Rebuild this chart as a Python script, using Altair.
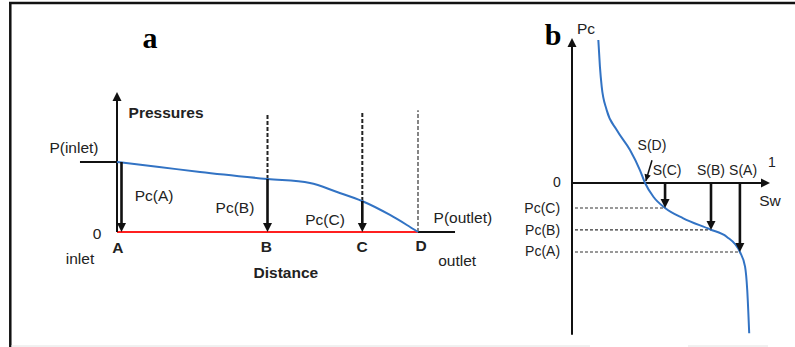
import altair as alt
import pandas as pd

W, H = 795, 347

# ---------------- panel a : pressure along the distance ----------------
a_curve_dist = [0.0, 0.14, 0.276, 0.5, 0.641, 0.731, 0.814, 0.907, 0.963, 1.0]
a_curve_pres = [1.0, 0.929, 0.857, 0.757, 0.70, 0.571, 0.443, 0.243, 0.10, 0.0]

a_point_names = ["A", "B", "C", "D"]
a_point_dist = [0.0, 0.5, 0.815, 1.0]
a_point_pc = [1.0, 0.757, 0.443, 0.0]

a_axis_top = 2.0          # top of "Pressures" arrow
a_guide_top = 1.7         # top of dashed guides at B, C
a_guide_top_d = 1.74      # top of dashed guide at D
a_inlet_stub = -0.123     # left end of P(inlet) stub
a_outlet_stub = 1.123     # right end of P(outlet) stub

a_labels = ["P(inlet)", "Pc(A)", "Pc(B)", "Pc(C)", "P(outlet)", "0", "inlet", "outlet"]
a_label_x = [-0.143, 0.123, 0.392, 0.691, 1.149, -0.066, -0.123, 1.13]
a_label_y = [1.2, 0.514, 0.343, 0.17, 0.2, -0.03, -0.386, -0.414]
a_bold_labels = ["Pressures", "Distance", "A", "B", "C", "D"]
a_bold_x = [0.163, 0.561, 0.003, 0.496, 0.814, 1.01]
a_bold_y = [1.7, -0.586, -0.229, -0.215, -0.215, -0.2]

# ---------------- panel b : capillary pressure curve ----------------
b_curve_sw = [0.133, 0.141, 0.150, 0.175, 0.226, 0.293, 0.343, 0.369, 0.411,
              0.470, 0.562, 0.697, 0.781, 0.848, 0.874, 0.885, 0.895]
b_curve_pc = [2.072, 1.686, 1.396, 1.058, 0.768, 0.478, 0.188, 0.0, -0.199,
              -0.362, -0.512, -0.671, -0.778, -1.0, -1.213, -1.551, -2.178]

b_point_names = ["A", "B", "C"]
b_point_sw = [0.848, 0.702, 0.470]
b_point_pc = [-1.0, -0.680, -0.362]
b_sd_sw = [0.404, 0.373]
b_sd_pc = [0.33, 0.03]

b_axis_bottom = -2.2
b_axis_top = 2.1
b_axis_right = 1.0

b_pc_labels = ["Pc(A)", "Pc(B)", "Pc(C)"]
b_pc_label_y = [-1.0, -0.696, -0.377]
b_s_labels = ["S(D)", "S(C)", "S(B)", "S(A)", "0", "1"]
b_s_x = [0.404, 0.48, 0.702, 0.864, -0.076, 1.01]
b_s_y = [0.536, 0.174, 0.174, 0.174, 0.0, 0.29]
b_big_labels = ["Pc", "Sw"]
b_big_x = [0.071, 1.0]
b_big_y = [2.232, -0.26]

# ---------------- layout anchors (pixels) ----------------
A_PX, A_UNIT_X = 117, 301
A_PY, A_UNIT_Y = 232, 70
B_PX, B_UNIT_X = 572, 198
B_PY, B_UNIT_Y = 183, 69

SAX = alt.Scale(domain=[-A_PX / A_UNIT_X, (W - A_PX) / A_UNIT_X], nice=False, zero=False)
SAY = alt.Scale(domain=[(A_PY - H) / A_UNIT_Y, A_PY / A_UNIT_Y], nice=False, zero=False)
SBX = alt.Scale(domain=[-B_PX / B_UNIT_X, (W - B_PX) / B_UNIT_X], nice=False, zero=False)
SBY = alt.Scale(domain=[(B_PY - H) / B_UNIT_Y, B_PY / B_UNIT_Y], nice=False, zero=False)

FONT = "Liberation Sans"
TXT = "#222222"
BLUE = "#3273c4"
RED = "#ff2020"
DOWN = "M-1,-2L1,-2L0,0Z"
UP = "M-1,2L1,2L0,0Z"
RIGHT = "M-2,-1L-2,1L0,0Z"


def X(f, s):
    return alt.X(f, type="quantitative", scale=s, axis=None)


def Y(f, s):
    return alt.Y(f, type="quantitative", scale=s, axis=None)


def X2(f):
    return alt.X2(f)


def Y2(f):
    return alt.Y2(f)


# ================= panel a =================
curve_a = pd.DataFrame({"x": a_curve_dist, "y": a_curve_pres})
pts_a = pd.DataFrame({"name": a_point_names, "x": a_point_dist, "pc": a_point_pc})
pts_a["zero"] = 0.0
pts_a["gtop"] = [a_guide_top, a_guide_top, a_guide_top, a_guide_top_d]

seg_a = pd.DataFrame({
    "x": [0.0, a_inlet_stub, 1.0],
    "x2": [1.0, 0.0, a_outlet_stub],
    "y": [0.0, 1.0, 0.0],
    "kind": ["red", "inlet", "outlet"],
})

red_line = alt.Chart(seg_a).transform_filter("datum.kind == 'red'").mark_rule(
    color=RED, strokeWidth=2.2).encode(x=X("x", SAX), x2=X2("x2"), y=Y("y", SAY))
stubs = alt.Chart(seg_a).transform_filter("datum.kind != 'red'").mark_rule(
    color="#111", strokeWidth=1.8).encode(x=X("x", SAX), x2=X2("x2"), y=Y("y", SAY))

axis_a_df = pd.DataFrame({"x": [0.0], "y": [0.0], "y2": [a_axis_top]})
axis_a = alt.Chart(axis_a_df).mark_rule(color="#111", strokeWidth=2, y2Offset=3).encode(
    x=X("x", SAX), y=Y("y", SAY), y2=Y2("y2"))
axis_a_head = alt.Chart(axis_a_df).mark_point(
    shape=UP, filled=True, size=81, color="#111", opacity=1).encode(x=X("x", SAX), y=Y("y2", SAY))

guides_bc = alt.Chart(pts_a).transform_filter("datum.name == 'B' || datum.name == 'C'").mark_rule(
    color="#222", strokeWidth=2, strokeDash=[4, 2]).encode(
    x=X("x", SAX), y=Y("pc", SAY), y2=Y2("gtop"))
guide_d = alt.Chart(pts_a).transform_filter("datum.name == 'D'").mark_rule(
    color="#444", strokeWidth=1.3, strokeDash=[4, 2]).encode(
    x=X("x", SAX), y=Y("zero", SAY), y2=Y2("gtop"))

arrows_bc = alt.Chart(pts_a).transform_filter("datum.name == 'B' || datum.name == 'C'").mark_rule(
    color="#111", strokeWidth=2.6, y2Offset=-4).encode(
    x=X("x", SAX), y=Y("pc", SAY), y2=Y2("zero"))
heads_bc = alt.Chart(pts_a).transform_filter("datum.name == 'B' || datum.name == 'C'").mark_point(
    shape=DOWN, filled=True, size=81, color="#111", opacity=1).encode(
    x=X("x", SAX), y=Y("zero", SAY))
arrow_a = alt.Chart(pts_a).transform_filter("datum.name == 'A'").mark_rule(
    color="#111", strokeWidth=2.6, y2Offset=-4, xOffset=4.5).encode(
    x=X("x", SAX), y=Y("pc", SAY), y2=Y2("zero"))
head_a = alt.Chart(pts_a).transform_filter("datum.name == 'A'").mark_point(
    shape=DOWN, filled=True, size=81, color="#111", opacity=1, xOffset=4.5).encode(
    x=X("x", SAX), y=Y("zero", SAY))

curve_a_line = alt.Chart(curve_a).mark_line(
    color=BLUE, strokeWidth=2, interpolate="monotone").encode(
    x=X("x", SAX), y=Y("y", SAY), order="x:Q")

lab_a = pd.DataFrame({"t": a_labels, "x": a_label_x, "y": a_label_y})
labels_a = alt.Chart(lab_a).mark_text(
    font=FONT, fontSize=15.5, color=TXT, align="center", baseline="middle").encode(
    x=X("x", SAX), y=Y("y", SAY), text="t:N")
blab_a = pd.DataFrame({"t": a_bold_labels, "x": a_bold_x, "y": a_bold_y})
bold_a = alt.Chart(blab_a).mark_text(
    font=FONT, fontSize=15.5, fontWeight="bold", color=TXT, align="center", baseline="middle").encode(
    x=X("x", SAX), y=Y("y", SAY), text="t:N")
title_a = alt.Chart(pd.DataFrame({"t": ["a"], "x": [0.11], "y": [2.757]})).mark_text(
    font="Liberation Serif", fontSize=30, fontWeight="bold", color="#000",
    align="center", baseline="middle").encode(x=X("x", SAX), y=Y("y", SAY), text="t:N")

panel_a = alt.layer(red_line, stubs, guides_bc, guide_d, axis_a, axis_a_head,
                    curve_a_line, arrows_bc, heads_bc, arrow_a, head_a,
                    labels_a, bold_a, title_a)

# ================= panel b =================
curve_b = pd.DataFrame({"x": b_curve_sw, "y": b_curve_pc})
pts_b = pd.DataFrame({"name": b_point_names, "sw": b_point_sw, "pc": b_point_pc})
pts_b["zero"] = 0.0
pts_b["left"] = 0.015

axes_b_df = pd.DataFrame({"x": [0.0], "y": [b_axis_bottom], "y2": [b_axis_top],
                          "x2": [b_axis_right], "zero": [0.0]})
vaxis_b = alt.Chart(axes_b_df).mark_rule(color="#111", strokeWidth=2, y2Offset=3).encode(
    x=X("x", SBX), y=Y("y", SBY), y2=Y2("y2"))
vhead_b = alt.Chart(axes_b_df).mark_point(
    shape=UP, filled=True, size=81, color="#111", opacity=1).encode(x=X("x", SBX), y=Y("y2", SBY))
haxis_b = alt.Chart(axes_b_df).mark_rule(color="#111", strokeWidth=2, x2Offset=-3).encode(
    x=X("x", SBX), x2=X2("x2"), y=Y("zero", SBY))
hhead_b = alt.Chart(axes_b_df).mark_point(
    shape=RIGHT, filled=True, size=81, color="#111", opacity=1).encode(x=X("x2", SBX), y=Y("zero", SBY))

dashes_b = alt.Chart(pts_b).mark_rule(color="#333", strokeWidth=1.2, strokeDash=[3, 2]).encode(
    x=X("left", SBX), x2=X2("sw"), y=Y("pc", SBY))
arrows_b = alt.Chart(pts_b).mark_rule(color="#111", strokeWidth=2.6, y2Offset=-4).encode(
    x=X("sw", SBX), y=Y("zero", SBY), y2=Y2("pc"))
heads_b = alt.Chart(pts_b).mark_point(
    shape=DOWN, filled=True, size=81, color="#111", opacity=1).encode(x=X("sw", SBX), y=Y("pc", SBY))

sd_df = pd.DataFrame({"x": [b_sd_sw[0]], "x2": [b_sd_sw[1]], "y": [b_sd_pc[0]], "y2": [b_sd_pc[1]]})
sd_line = alt.Chart(sd_df).mark_rule(color="#111", strokeWidth=1.5).encode(
    x=X("x", SBX), x2=X2("x2"), y=Y("y", SBY), y2=Y2("y2"))
sd_head = alt.Chart(sd_df).mark_point(
    shape=DOWN, filled=True, size=42, color="#111", opacity=1, angle=16).encode(
    x=X("x2", SBX), y=Y("y2", SBY))

curve_b_line = alt.Chart(curve_b).mark_line(
    color=BLUE, strokeWidth=2, interpolate="monotone").encode(
    x=X("x", SBX), y=Y("y", SBY), order=alt.Order("y:Q", sort="descending"))

pcl_b = pd.DataFrame({"t": b_pc_labels, "y": b_pc_label_y})
pcl_b["x"] = -0.06
pc_labels_b = alt.Chart(pcl_b).mark_text(
    font=FONT, fontSize=14, color=TXT, align="right", baseline="middle").encode(
    x=X("x", SBX), y=Y("y", SBY), text="t:N")
sl_b = pd.DataFrame({"t": b_s_labels, "x": b_s_x, "y": b_s_y})
s_labels_b = alt.Chart(sl_b).mark_text(
    font=FONT, fontSize=14, color=TXT, align="center", baseline="middle").encode(
    x=X("x", SBX), y=Y("y", SBY), text="t:N")
bl_b = pd.DataFrame({"t": b_big_labels, "x": b_big_x, "y": b_big_y})
big_labels_b = alt.Chart(bl_b).mark_text(
    font=FONT, fontSize=15.5, color=TXT, align="center", baseline="middle").encode(
    x=X("x", SBX), y=Y("y", SBY), text="t:N")
title_b = alt.Chart(pd.DataFrame({"t": ["b"], "x": [-0.096], "y": [2.13]})).mark_text(
    font="Liberation Serif", fontSize=30, fontWeight="bold", color="#000",
    align="center", baseline="middle").encode(x=X("x", SBX), y=Y("y", SBY), text="t:N")

panel_b = alt.layer(dashes_b, vaxis_b, vhead_b, haxis_b, hhead_b, curve_b_line,
                    arrows_b, heads_b, sd_line, sd_head, pc_labels_b, s_labels_b,
                    big_labels_b, title_b)

# ================= frame =================
one = alt.Data(values=[{}])
frame_top = alt.Chart(one).mark_rule(color="#111", strokeWidth=2.5).encode(
    x=alt.value(9), x2=alt.value(W), y=alt.value(3))
frame_left = alt.Chart(one).mark_rule(color="#111", strokeWidth=2.5).encode(
    x=alt.value(10.3), y=alt.value(2), y2=alt.value(H))
frame_bot1 = alt.Chart(one).mark_rule(color="#e2e2e2", strokeWidth=1).encode(
    x=alt.value(11), x2=alt.value(590), y=alt.value(346))
frame_bot2 = alt.Chart(one).mark_rule(color="#e2e2e2", strokeWidth=1).encode(
    x=alt.value(688), x2=alt.value(768), y=alt.value(346))
frame = alt.layer(frame_top, frame_left, frame_bot1, frame_bot2)

chart = alt.layer(panel_a, panel_b, frame).resolve_scale(
    x="independent", y="independent"
).properties(
    width=W, height=H, padding=0, autosize=alt.AutoSizeParams(type="none"),
    background="white"
).configure_view(stroke=None)

chart.save("out.html", embed_options={"renderer": "svg", "actions": False})
